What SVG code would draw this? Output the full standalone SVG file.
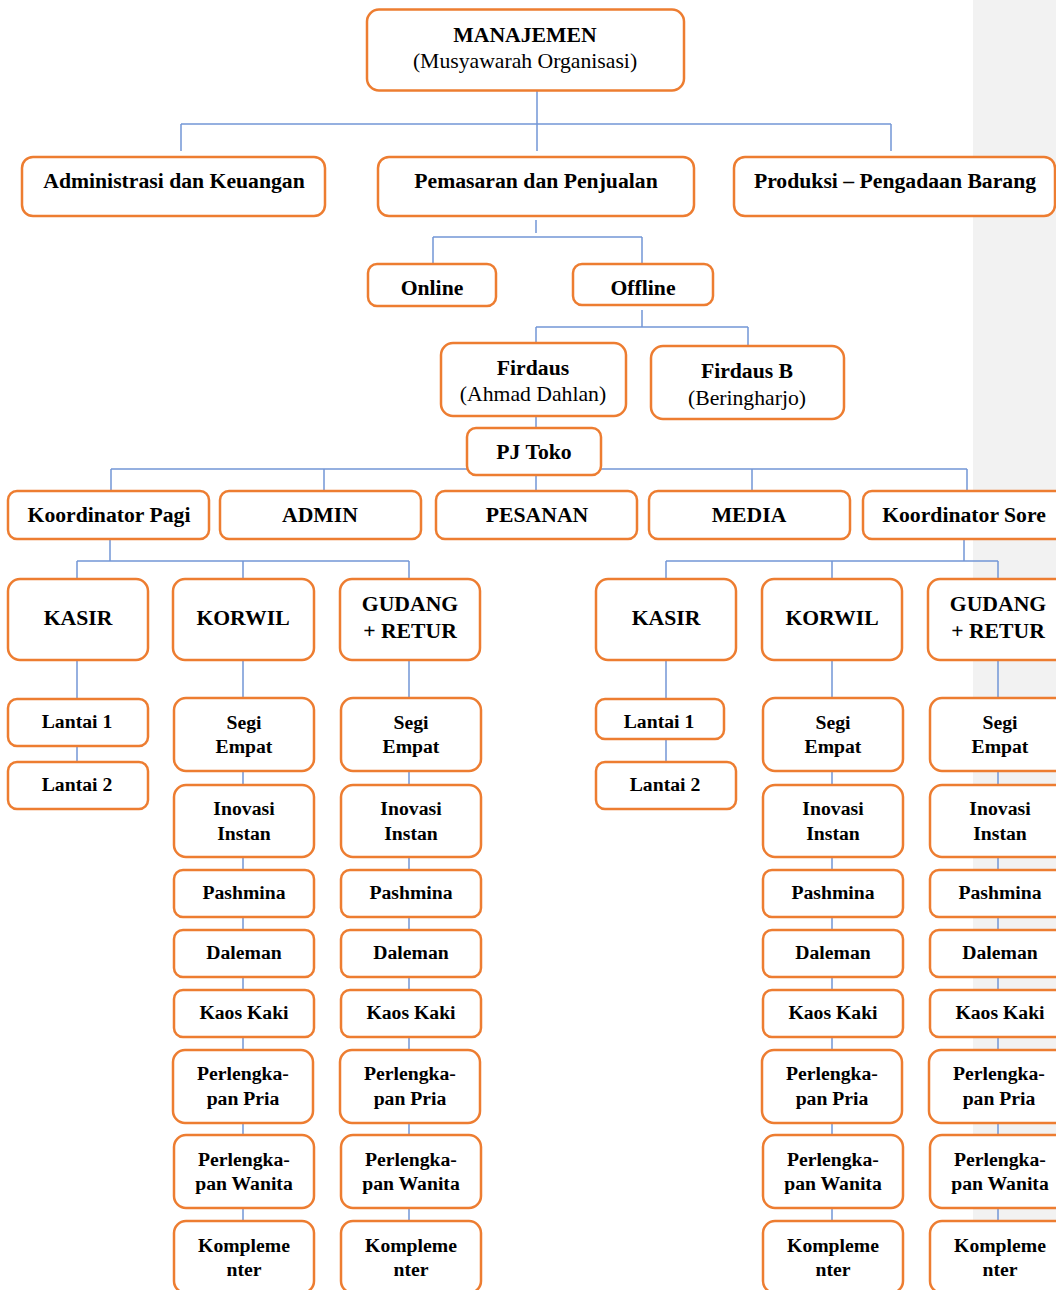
<svg xmlns="http://www.w3.org/2000/svg" width="1056" height="1290" viewBox="0 0 1056 1290">
<style>
.box{fill:#ffffff;stroke:#ED7D31;stroke-width:2.5}
.t{font-family:"Liberation Serif","Times New Roman",serif;font-weight:bold;text-anchor:middle;fill:#000}
.b{font-size:21.7px}
.s{font-size:19.7px}
.r{font-weight:normal}
.c{fill:none;stroke:#7396d6;stroke-width:1.5}
</style>
<rect x="973" y="0" width="83" height="1290" fill="#f2f2f2"/>
<g id="connectors" class="c">
<path d="M537,91V124M181,124H891M181,124V151M537,124V151M891,124V151"/>
<path d="M536,220V233M433,237H642M433,237V264M642,237V264"/>
<path d="M642,310V327M536,327H748M536,327V343M748,327V346"/>
<path d="M536,416V428"/>
<path d="M111,469H967M111,469V491M324,469V491M536,475V491M752,469V491M967,469V491"/>
<path d="M110,539V561M77,561H409M77,561V579M243,561V579M409,561V579"/>
<path d="M964,539V561M666,561H998M666,561V579M832,561V579M998,561V579"/>
<path d="M77,660V762"/>
<path d="M666,660V762"/>
<path d="M243,660V1221M409,660V1221M832,660V1221M998,660V1221"/>
</g>
<g id="manajemen"><rect class="box" x="367" y="9.5" width="317" height="81" rx="12"/><text class="t b" x="525" y="42">MANAJEMEN</text><text class="t b r" x="525" y="68">(Musyawarah Organisasi)</text></g>
<g id="admin-keuangan"><rect class="box" x="22" y="157" width="303" height="59" rx="11"/><text class="t b" x="174" y="188">Administrasi dan Keuangan</text></g>
<g id="pemasaran"><rect class="box" x="378" y="157" width="316" height="59" rx="11"/><text class="t b" x="536" y="188">Pemasaran dan Penjualan</text></g>
<g id="produksi"><rect class="box" x="734" y="157" width="321" height="59" rx="11"/><text class="t b" x="895" y="188">Produksi – Pengadaan Barang</text></g>
<g id="online"><rect class="box" x="368" y="264" width="128" height="42" rx="9"/><text class="t b" x="432" y="295">Online</text></g>
<g id="offline"><rect class="box" x="573" y="264" width="140" height="41" rx="9"/><text class="t b" x="643" y="295">Offline</text></g>
<g id="firdaus"><rect class="box" x="441" y="343" width="185" height="73" rx="12"/><text class="t b" x="533" y="375">Firdaus</text><text class="t b r" x="533" y="401">(Ahmad Dahlan)</text></g>
<g id="firdaus-b"><rect class="box" x="651" y="346" width="193" height="73" rx="12"/><text class="t b" x="747" y="378">Firdaus B</text><text class="t b r" x="747" y="405">(Beringharjo)</text></g>
<g id="pj-toko"><rect class="box" x="467" y="428" width="134" height="47" rx="9"/><text class="t b" x="534" y="459">PJ Toko</text></g>
<g id="koordinator-pagi"><rect class="box" x="8" y="491" width="201" height="48" rx="9"/><text class="t b" x="109" y="522">Koordinator Pagi</text></g>
<g id="admin"><rect class="box" x="220" y="491" width="201" height="48" rx="9"/><text class="t b" x="320" y="522">ADMIN</text></g>
<g id="pesanan"><rect class="box" x="436" y="491" width="201" height="48" rx="9"/><text class="t b" x="537" y="522">PESANAN</text></g>
<g id="media"><rect class="box" x="649" y="491" width="201" height="48" rx="9"/><text class="t b" x="749" y="522">MEDIA</text></g>
<g id="koordinator-sore"><rect class="box" x="863" y="491" width="201" height="48" rx="9"/><text class="t b" x="964" y="522">Koordinator Sore</text></g>
<g id="kasir-pagi"><rect class="box" x="8" y="579" width="140" height="81" rx="12"/><text class="t b" x="78" y="625">KASIR</text></g>
<g id="korwil-pagi"><rect class="box" x="173" y="579" width="141" height="81" rx="12"/><text class="t b" x="243" y="625">KORWIL</text></g>
<g id="gudang-pagi"><rect class="box" x="340" y="579" width="140" height="81" rx="12"/><text class="t b" x="410" y="611">GUDANG</text><text class="t b" x="410" y="638">+ RETUR</text></g>
<g id="kasir-sore"><rect class="box" x="596" y="579" width="140" height="81" rx="12"/><text class="t b" x="666" y="625">KASIR</text></g>
<g id="korwil-sore"><rect class="box" x="762" y="579" width="140" height="81" rx="12"/><text class="t b" x="832" y="625">KORWIL</text></g>
<g id="gudang-sore"><rect class="box" x="928" y="579" width="140" height="81" rx="12"/><text class="t b" x="998" y="611">GUDANG</text><text class="t b" x="998" y="638">+ RETUR</text></g>
<g id="lantai1-pagi"><rect class="box" x="8" y="699" width="140" height="47" rx="9"/><text class="t s" x="77" y="728">Lantai 1</text></g>
<g id="lantai2-pagi"><rect class="box" x="8" y="762" width="140" height="47" rx="9"/><text class="t s" x="77" y="791">Lantai 2</text></g>
<g id="lantai1-sore"><rect class="box" x="596" y="699" width="128" height="40" rx="9"/><text class="t s" x="659" y="728">Lantai 1</text></g>
<g id="lantai2-sore"><rect class="box" x="596" y="762" width="140" height="47" rx="9"/><text class="t s" x="665" y="791">Lantai 2</text></g>
<g id="korwil-pagi-items">
<g id="kp-segi"><rect class="box" x="174" y="698" width="140" height="73" rx="12"/><text class="t s" x="244" y="729">Segi</text><text class="t s" x="244" y="753">Empat</text></g>
<g id="kp-inovasi"><rect class="box" x="174" y="785" width="140" height="72" rx="12"/><text class="t s" x="244" y="815">Inovasi</text><text class="t s" x="244" y="840">Instan</text></g>
<g id="kp-pashmina"><rect class="box" x="174" y="870" width="140" height="47" rx="9"/><text class="t s" x="244" y="899">Pashmina</text></g>
<g id="kp-daleman"><rect class="box" x="174" y="930" width="140" height="47" rx="9"/><text class="t s" x="244" y="959">Daleman</text></g>
<g id="kp-kaos"><rect class="box" x="174" y="990" width="140" height="47" rx="9"/><text class="t s" x="244" y="1019">Kaos Kaki</text></g>
<g id="kp-pria"><rect class="box" x="173" y="1050" width="140" height="73" rx="12"/><text class="t s" x="243" y="1080">Perlengka-</text><text class="t s" x="243" y="1105">pan Pria</text></g>
<g id="kp-wanita"><rect class="box" x="174" y="1135" width="140" height="73" rx="12"/><text class="t s" x="244" y="1166">Perlengka-</text><text class="t s" x="244" y="1190">pan Wanita</text></g>
<g id="kp-komplementer"><rect class="box" x="174" y="1221" width="140" height="72" rx="12"/><text class="t s" x="244" y="1252">Kompleme</text><text class="t s" x="244" y="1276">nter</text></g>
</g>
<g id="gudang-pagi-items">
<g id="gp-segi"><rect class="box" x="341" y="698" width="140" height="73" rx="12"/><text class="t s" x="411" y="729">Segi</text><text class="t s" x="411" y="753">Empat</text></g>
<g id="gp-inovasi"><rect class="box" x="341" y="785" width="140" height="72" rx="12"/><text class="t s" x="411" y="815">Inovasi</text><text class="t s" x="411" y="840">Instan</text></g>
<g id="gp-pashmina"><rect class="box" x="341" y="870" width="140" height="47" rx="9"/><text class="t s" x="411" y="899">Pashmina</text></g>
<g id="gp-daleman"><rect class="box" x="341" y="930" width="140" height="47" rx="9"/><text class="t s" x="411" y="959">Daleman</text></g>
<g id="gp-kaos"><rect class="box" x="341" y="990" width="140" height="47" rx="9"/><text class="t s" x="411" y="1019">Kaos Kaki</text></g>
<g id="gp-pria"><rect class="box" x="340" y="1050" width="140" height="73" rx="12"/><text class="t s" x="410" y="1080">Perlengka-</text><text class="t s" x="410" y="1105">pan Pria</text></g>
<g id="gp-wanita"><rect class="box" x="341" y="1135" width="140" height="73" rx="12"/><text class="t s" x="411" y="1166">Perlengka-</text><text class="t s" x="411" y="1190">pan Wanita</text></g>
<g id="gp-komplementer"><rect class="box" x="341" y="1221" width="140" height="72" rx="12"/><text class="t s" x="411" y="1252">Kompleme</text><text class="t s" x="411" y="1276">nter</text></g>
</g>
<g id="korwil-sore-items">
<g id="ks-segi"><rect class="box" x="763" y="698" width="140" height="73" rx="12"/><text class="t s" x="833" y="729">Segi</text><text class="t s" x="833" y="753">Empat</text></g>
<g id="ks-inovasi"><rect class="box" x="763" y="785" width="140" height="72" rx="12"/><text class="t s" x="833" y="815">Inovasi</text><text class="t s" x="833" y="840">Instan</text></g>
<g id="ks-pashmina"><rect class="box" x="763" y="870" width="140" height="47" rx="9"/><text class="t s" x="833" y="899">Pashmina</text></g>
<g id="ks-daleman"><rect class="box" x="763" y="930" width="140" height="47" rx="9"/><text class="t s" x="833" y="959">Daleman</text></g>
<g id="ks-kaos"><rect class="box" x="763" y="990" width="140" height="47" rx="9"/><text class="t s" x="833" y="1019">Kaos Kaki</text></g>
<g id="ks-pria"><rect class="box" x="762" y="1050" width="140" height="73" rx="12"/><text class="t s" x="832" y="1080">Perlengka-</text><text class="t s" x="832" y="1105">pan Pria</text></g>
<g id="ks-wanita"><rect class="box" x="763" y="1135" width="140" height="73" rx="12"/><text class="t s" x="833" y="1166">Perlengka-</text><text class="t s" x="833" y="1190">pan Wanita</text></g>
<g id="ks-komplementer"><rect class="box" x="763" y="1221" width="140" height="72" rx="12"/><text class="t s" x="833" y="1252">Kompleme</text><text class="t s" x="833" y="1276">nter</text></g>
</g>
<g id="gudang-sore-items">
<g id="gs-segi"><rect class="box" x="930" y="698" width="140" height="73" rx="12"/><text class="t s" x="1000" y="729">Segi</text><text class="t s" x="1000" y="753">Empat</text></g>
<g id="gs-inovasi"><rect class="box" x="930" y="785" width="140" height="72" rx="12"/><text class="t s" x="1000" y="815">Inovasi</text><text class="t s" x="1000" y="840">Instan</text></g>
<g id="gs-pashmina"><rect class="box" x="930" y="870" width="140" height="47" rx="9"/><text class="t s" x="1000" y="899">Pashmina</text></g>
<g id="gs-daleman"><rect class="box" x="930" y="930" width="140" height="47" rx="9"/><text class="t s" x="1000" y="959">Daleman</text></g>
<g id="gs-kaos"><rect class="box" x="930" y="990" width="140" height="47" rx="9"/><text class="t s" x="1000" y="1019">Kaos Kaki</text></g>
<g id="gs-pria"><rect class="box" x="929" y="1050" width="140" height="73" rx="12"/><text class="t s" x="999" y="1080">Perlengka-</text><text class="t s" x="999" y="1105">pan Pria</text></g>
<g id="gs-wanita"><rect class="box" x="930" y="1135" width="140" height="73" rx="12"/><text class="t s" x="1000" y="1166">Perlengka-</text><text class="t s" x="1000" y="1190">pan Wanita</text></g>
<g id="gs-komplementer"><rect class="box" x="930" y="1221" width="140" height="72" rx="12"/><text class="t s" x="1000" y="1252">Kompleme</text><text class="t s" x="1000" y="1276">nter</text></g>
</g>
</svg>
